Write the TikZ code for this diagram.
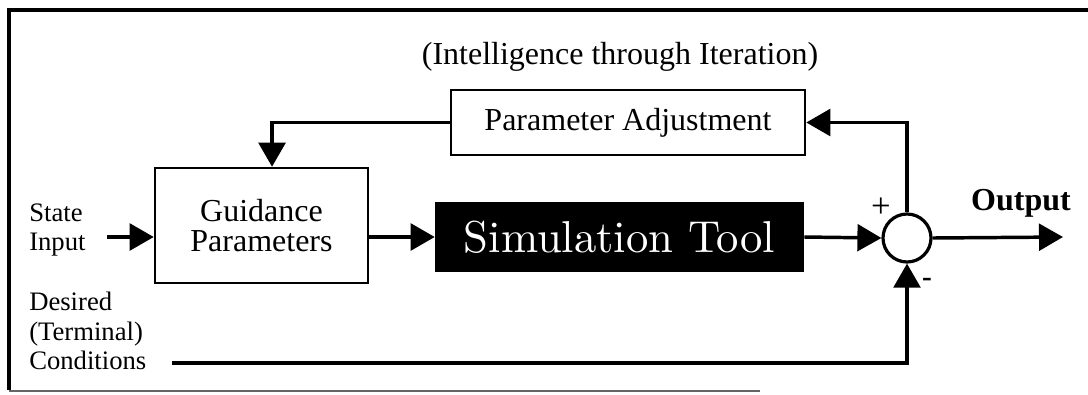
\documentclass[tikz,border=0pt]{standalone}
\usepackage{fontspec}
\newfontfamily\tnr{Liberation Serif}
\newfontfamily\lmten{lmroman10-regular.otf}
\usetikzlibrary{arrows.meta}
\begin{document}
\begin{tikzpicture}[x=0.75pt,y=-0.75pt,
  blk/.style={draw,line width=1.9pt,inner sep=0pt,align=center,font=\tnr\fontsize{24}{22.5}\selectfont},
  lbl/.style={inner sep=0pt,align=left,font=\tnr\fontsize{20}{22}\selectfont},
  conn/.style={line width=2.6pt,-{Triangle[length=18pt,width=20pt]}},
  wire/.style={line width=2.6pt}]
\useasboundingbox (0,0) rectangle (1088,394);
% frame
\draw[line width=2.4pt] (1088,10) -- (9,10) -- (9,390);
\draw[line width=1pt,black!60] (9,391) -- (760,391);
% blocks
\node[blk,minimum width=159.75pt,minimum height=86.25pt] (guid) at (261.5,225.5) {Guidance\\Parameters};
\node[blk,minimum width=265.5pt,minimum height=48.75pt] (pa) at (628,122.5) {Parameter Adjustment};
\node[fill=black,text=white,inner sep=0pt,minimum width=276.75pt,minimum height=52.5pt,font=\lmten\fontsize{33.5}{36}\selectfont] (sim) at (619.5,237) {Simulation Tool};
\node[draw,circle,line width=2.4pt,minimum size=36pt,inner sep=0pt] (sum) at (907,238) {};
% labels
\node[font=\tnr\fontsize{24}{26}\selectfont,inner sep=0pt] (title) at (620,57) {(Intelligence through Iteration)};
\node[lbl,anchor=west] (state) at (29,230) {State\\Input};
\node[lbl,anchor=west] (des) at (29,331) {Desired\\(Terminal)\\Conditions};
\node[font=\tnr\bfseries\fontsize{24}{26}\selectfont,inner sep=0pt] (outl) at (1021,203) {Output};
\node[font=\tnr\fontsize{26}{28}\selectfont,inner sep=0pt] (plus) at (881,208) {+};
\node[font=\tnr\bfseries\fontsize{22}{24}\selectfont,inner sep=0pt] (minus) at (927,282) {-};
% connectors
\coordinate (sin) at (107,237);
\coordinate (dc) at (172,363);
\coordinate (out) at (1063,237);
\draw[conn] (sin) -- (sin -| guid.west);
\draw[conn] (sim.west -| guid.east) -- (sim.west);
\draw[conn] (sim.east) -- (sum.west);
\draw[conn] (sum.east) -- (out);
\draw[conn] (sum.north) |- (pa.east);
\draw[conn] (pa.west) -| ([xshift=7.9pt]guid.north);
\draw[conn] (dc) -| (sum.south);
\end{tikzpicture}
\end{document}
